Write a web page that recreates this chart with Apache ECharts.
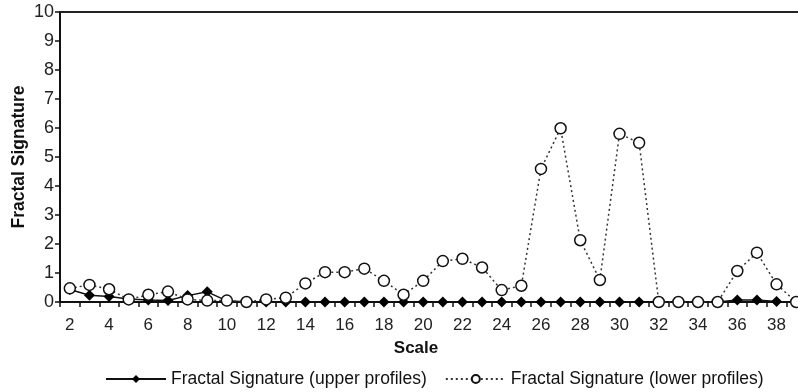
<!DOCTYPE html>
<html>
<head>
<meta charset="utf-8">
<script src="https://cdn.jsdelivr.net/npm/echarts@6/dist/echarts.min.js"></script>
<style>html,body{margin:0;padding:0;background:#fff}#c{width:798px;height:392px}</style>
</head>
<body>
<div id="c"></div>
<script>
var scales = [2,3,4,5,6,7,8,9,10,11,12,13,14,15,16,17,18,19,20,21,22,23,24,25,26,27,28,29,30,31,32,33,34,35,36,37,38,39];
var upperProfiles = [0.43,0.23,0.19,0.1,0.07,0.05,0.22,0.35,0.04,0,0,0,0,0,0,0,0,0,0,0,0,0,0,0,0,0,0,0,0,0,0,0,0,0,0.07,0.07,0.02,0];
var lowerProfiles = [0.47,0.59,0.44,0.09,0.25,0.36,0.09,0.05,0.05,0,0.09,0.15,0.64,1.03,1.03,1.15,0.73,0.25,0.73,1.41,1.49,1.19,0.41,0.56,4.59,5.99,2.13,0.76,5.8,5.49,0,0,0,0,1.07,1.7,0.61,0];
var yTicks = [0,1,2,3,4,5,6,7,8,9,10];

var chart = echarts.init(document.getElementById('c'));
var font = '"Liberation Sans", Arial, sans-serif';
chart.setOption({
  animation: false,
  backgroundColor: '#fff',
  grid: {left: 60, top: 12, width: 746, height: 290, containLabel: false, outerBoundsMode: 'none'},
  xAxis: [{
    type: 'category',
    data: scales,
    boundaryGap: true,
    name: 'Scale',
    nameLocation: 'middle',
    nameGap: 38,
    nameMoveOverlap: false,
    nameTextStyle: {fontFamily: font, fontSize: 17, fontWeight: 'bold', color: '#111', padding: [0,0,0,-34]},
    axisLine: {show: true, lineStyle: {color: '#111', width: 2}},
    axisTick: {show: true, interval: 0, length: 5, lineStyle: {color: '#111', width: 1.5}},
    axisLabel: {interval: 1, fontFamily: font, fontSize: 17, color: '#222', margin: 15},
    splitLine: {show: false}
  }, {
    type: 'category',
    data: scales,
    position: 'top',
    axisLine: {show: true, lineStyle: {color: '#222', width: 2}},
    axisTick: {show: false},
    axisLabel: {show: false},
    splitLine: {show: false}
  }],
  yAxis: {
    type: 'value',
    min: 0, max: 10, interval: 1,
    name: 'Fractal Signature',
    nameLocation: 'middle',
    nameGap: 32,
    nameMoveOverlap: false,
    nameTextStyle: {fontFamily: font, fontSize: 17.5, fontWeight: 'bold', color: '#111'},
    axisLine: {show: true, lineStyle: {color: '#111', width: 2}},
    axisTick: {show: true, length: 5, lineStyle: {color: '#111', width: 1.5}},
    axisLabel: {fontFamily: font, fontSize: 18, color: '#222', margin: 6,
      formatter: function (v) { return yTicks.indexOf(v) >= 0 ? String(v) : ''; }},
    splitLine: {show: false}
  },
  legend: {
    top: 365,
    left: 100,
    itemWidth: 60,
    itemHeight: 10,
    itemGap: 18,
    textStyle: {fontFamily: font, fontSize: 17.5, color: '#111'},
    data: ['Fractal Signature (upper profiles)', 'Fractal Signature (lower profiles)']
  },
  series: [{
    name: 'Fractal Signature (upper profiles)',
    type: 'line',
    data: upperProfiles,
    symbol: 'diamond',
    symbolSize: 11,
    lineStyle: {color: '#111', width: 1.5},
    itemStyle: {color: '#000', borderColor: '#000', borderWidth: 0},
    z: 2
  }, {
    name: 'Fractal Signature (lower profiles)',
    type: 'line',
    data: lowerProfiles,
    symbol: 'circle',
    symbolSize: 11,
    lineStyle: {color: '#333', width: 1.5, type: [2, 3]},
    itemStyle: {color: '#fff', borderColor: '#111', borderWidth: 1.5},
    z: 3
  }]
});
</script>
</body>
</html>
